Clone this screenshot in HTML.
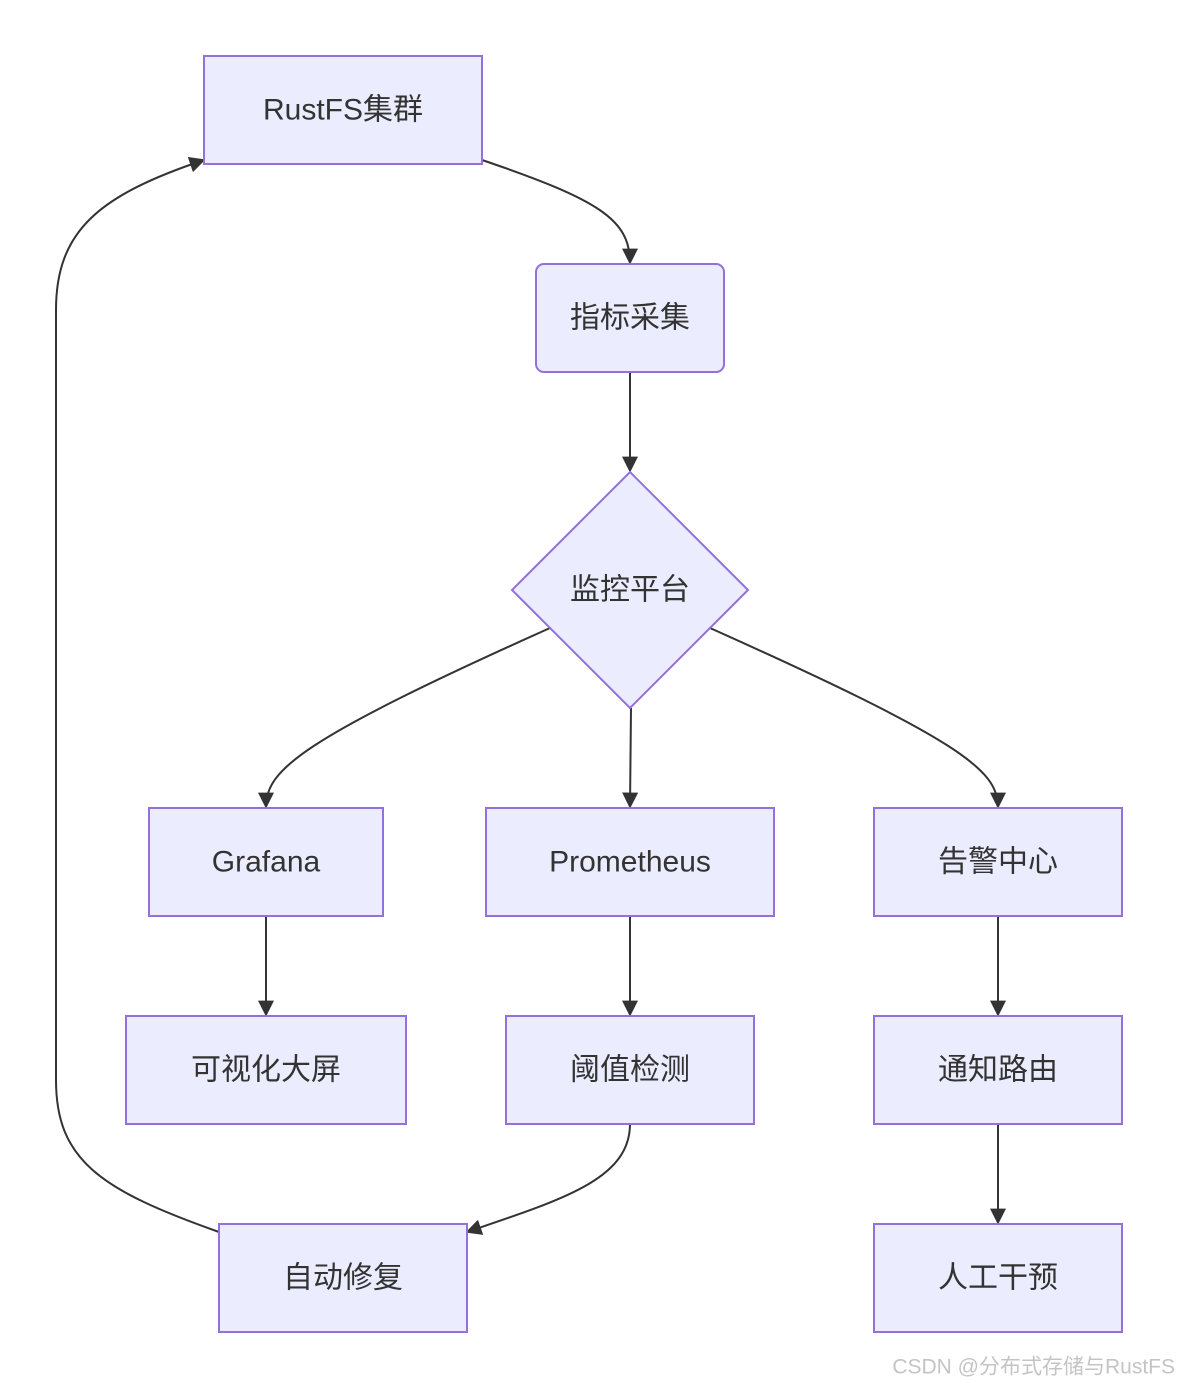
<!DOCTYPE html>
<html><head><meta charset="utf-8"><style>
html,body{margin:0;padding:0;background:#fff;}
svg{display:block;}
text{font-family:"Liberation Sans","Noto Sans CJK SC",sans-serif;fill:#333;font-size:30px;text-anchor:middle;dominant-baseline:central;}
.n{fill:#ECECFF;stroke:#9370DB;stroke-width:2;}
.e{fill:none;stroke:#333;stroke-width:2;}
</style></head><body>
<svg width="1178" height="1387" viewBox="0 0 1178 1387">
<defs><marker id="a" viewBox="0 0 10 10" refX="9" refY="5" markerWidth="16" markerHeight="16" markerUnits="userSpaceOnUse" orient="auto"><path d="M0,0L10,5L0,10z" fill="#333"/></marker></defs>
<path class="e" marker-end="url(#a)" d="M482,160 C600,200 630,220 630,263"/>
<path class="e" marker-end="url(#a)" d="M630,372 L630,471"/>
<path class="e" marker-end="url(#a)" d="M550,628 C300,740 266,770 266,807"/>
<path class="e" marker-end="url(#a)" d="M631,708 L630,807"/>
<path class="e" marker-end="url(#a)" d="M710,628 C960,740 998,770 998,807"/>
<path class="e" marker-end="url(#a)" d="M266,916 L266,1015"/>
<path class="e" marker-end="url(#a)" d="M630,916 L630,1015"/>
<path class="e" marker-end="url(#a)" d="M998,916 L998,1015"/>
<path class="e" marker-end="url(#a)" d="M998,1124 L998,1223"/>
<path class="e" marker-end="url(#a)" d="M630,1124 C630,1180 560,1200 467,1232"/>
<path class="e" marker-end="url(#a)" d="M219,1232 C100,1190 56,1160 56,1080 L56,310 C56,230 100,195 204,160"/>
<rect class="n" x="204" y="56" width="278" height="108"/><text x="343" y="110">RustFS集群</text>
<rect class="n" x="536" y="264" width="188" height="108" rx="8"/><text x="630" y="318">指标采集</text>
<polygon class="n" points="630,472 748,590 630,708 512,590"/><text x="630" y="590">监控平台</text>
<rect class="n" x="149" y="808" width="234" height="108"/><text x="266" y="862">Grafana</text>
<rect class="n" x="486" y="808" width="288" height="108"/><text x="630" y="862">Prometheus</text>
<rect class="n" x="874" y="808" width="248" height="108"/><text x="998" y="862">告警中心</text>
<rect class="n" x="126" y="1016" width="280" height="108"/><text x="266" y="1070">可视化大屏</text>
<rect class="n" x="506" y="1016" width="248" height="108"/><text x="630" y="1070">阈值检测</text>
<rect class="n" x="874" y="1016" width="248" height="108"/><text x="998" y="1070">通知路由</text>
<rect class="n" x="219" y="1224" width="248" height="108"/><text x="343" y="1278">自动修复</text>
<rect class="n" x="874" y="1224" width="248" height="108"/><text x="998" y="1278">人工干预</text>
<text x="1175" y="1367" style="font-size:21px;fill:#c4c4c4;text-anchor:end">CSDN @分布式存储与RustFS</text>
</svg>
</body></html>
